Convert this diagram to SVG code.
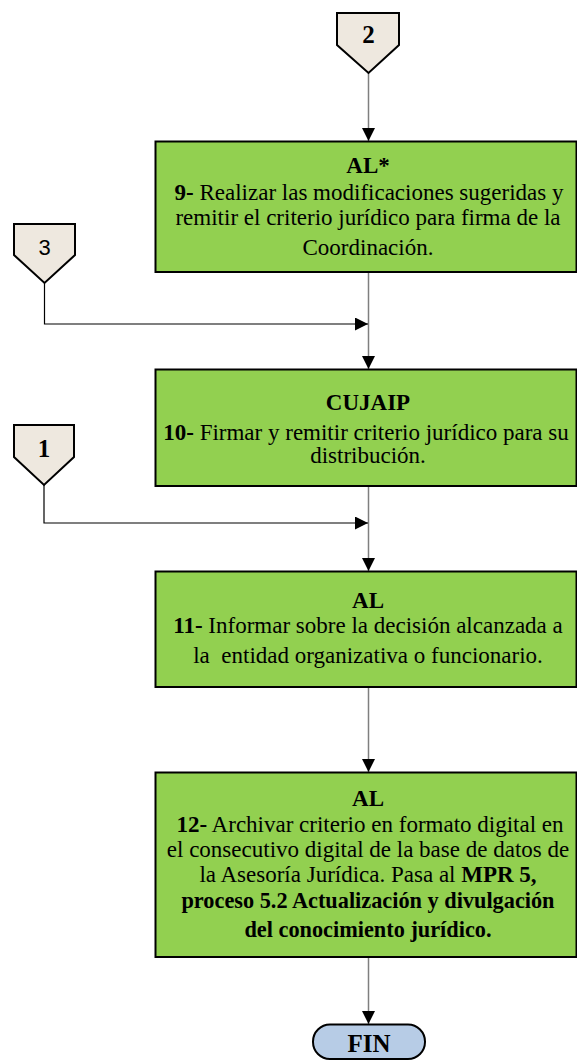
<svg xmlns="http://www.w3.org/2000/svg" width="577" height="1061" viewBox="0 0 577 1061">
<style>
.box{fill:#92d050;stroke:#000;stroke-width:2}
.off{fill:#eee8df;stroke:#000;stroke-width:2;stroke-linejoin:miter}
.t{font-family:"Liberation Serif","Times New Roman",serif;font-size:23px;fill:#000;text-anchor:middle}
.h{font-weight:bold}
.num{font-family:"Liberation Serif","Times New Roman",serif;font-size:25px;font-weight:bold;text-anchor:middle;fill:#000}
.main{fill:none;stroke:#7f7f7f;stroke-width:1.5}
.link{fill:none;stroke:#000;stroke-width:1.2}
</style>
<defs>
<marker id="arr" viewBox="0 0 10 10" refX="10" refY="5" markerUnits="userSpaceOnUse" markerWidth="13" markerHeight="13" orient="auto">
<path d="M0,0 L10,5 L0,10 Z" fill="#000"/>
</marker>
</defs>
<g id="connectors">
<line class="main" x1="368.5" y1="73" x2="368.5" y2="141" marker-end="url(#arr)"/>
<line class="main" x1="368.5" y1="272" x2="368.5" y2="369" marker-end="url(#arr)"/>
<polyline class="link" points="44.5,283 44.5,324 368,324" marker-end="url(#arr)"/>
<line class="main" x1="368.5" y1="486" x2="368.5" y2="571" marker-end="url(#arr)"/>
<polyline class="link" points="44,485 44,523 368,523" marker-end="url(#arr)"/>
<line class="main" x1="368.5" y1="687" x2="368.5" y2="772" marker-end="url(#arr)"/>
<line class="main" x1="368.5" y1="957" x2="368.5" y2="1024" marker-end="url(#arr)"/>
</g>
<g id="off2">
<polygon class="off" points="337,13 399,13 399,45 368.5,73 337,45"/>
<text class="num" x="368.5" y="43">2</text>
</g>
<g id="off3">
<polygon class="off" points="14,224 75,224 75,255 44.5,283 14,255"/>
<text x="44.5" y="255" style="font-family:'Liberation Sans',Arial,sans-serif;font-size:22px;text-anchor:middle;fill:#000">3</text>
</g>
<g id="off1">
<polygon class="off" points="14,425 74,425 74,457 44,485 14,457"/>
<text class="num" x="44" y="457">1</text>
</g>
<g id="step9">
<rect class="box" x="155.5" y="141.5" width="421" height="130.5"/>
<text class="t h" x="368" y="173">AL*</text>
<text class="t" x="369" y="200"><tspan class="h">9-</tspan> Realizar las modificaciones sugeridas y</text>
<text class="t" x="368" y="225">remitir el criterio jurídico para firma de la</text>
<text class="t" x="368" y="255">Coordinación.</text>
</g>
<g id="step10">
<rect class="box" x="155.5" y="369.5" width="421" height="116.5"/>
<text class="t h" x="368" y="410">CUJAIP</text>
<text class="t" x="366" y="440"><tspan class="h">10-</tspan> Firmar y remitir criterio jurídico para su</text>
<text class="t" x="368" y="463">distribución.</text>
</g>
<g id="step11">
<rect class="box" x="155.5" y="571.5" width="421" height="115.5"/>
<text class="t h" x="368" y="608">AL</text>
<text class="t" x="368" y="633"><tspan class="h">11-</tspan> Informar sobre la decisión alcanzada a</text>
<text class="t" x="368" y="663" style="white-space:pre">la  entidad organizativa o funcionario.</text>
</g>
<g id="step12">
<rect class="box" x="155.5" y="772.5" width="421" height="184.5"/>
<text class="t h" x="368" y="806">AL</text>
<text class="t" x="370" y="832"><tspan class="h">12-</tspan> Archivar criterio en formato digital en</text>
<text class="t" x="368" y="857">el consecutivo digital de la base de datos de</text>
<text class="t" x="368" y="882">la Asesoría Jurídica. Pasa al <tspan class="h">MPR 5,</tspan></text>
<text class="t h" x="368" y="908" style="font-size:22.3px">proceso 5.2 Actualización y divulgación</text>
<text class="t h" x="368" y="937" style="font-size:22.3px">del conocimiento jurídico.</text>
</g>
<g id="fin">
<rect x="313" y="1024.5" width="112" height="34.5" rx="17" ry="17" fill="#b7cce6" stroke="#000" stroke-width="2"/>
<text class="num" x="369" y="1052" style="font-size:25px">FIN</text>
</g>
</svg>
